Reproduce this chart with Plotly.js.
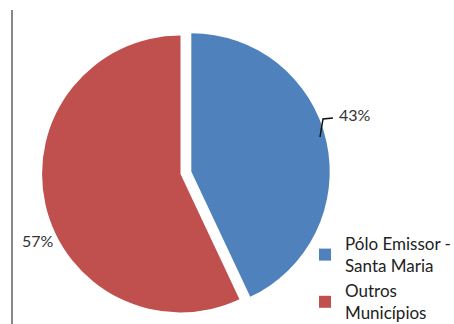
<!DOCTYPE html>
<html>
<head>
<meta charset="utf-8">
<script src="https://cdn.plot.ly/plotly-3.0.1.min.js"></script>
<style>html,body{margin:0;padding:0;background:#fff;overflow:hidden;}#chart{width:454px;height:360px;}</style>
</head>
<body>
<div id="chart"></div>
<script>
const labels = ["Pólo Emissor -<br>Santa Maria", "Outros<br>Municípios"];
const values = [43, 57];
const colors = ["#4F81BD", "#C0504D"];
const pulls = [0.08, 0];

const W = 454, H = 360;
const total = values.reduce((a, b) => a + b, 0);
const pct = values.map(v => Math.round(v / total * 100) + '%');
const labelPos = [[355, 115], [38, 240]];
const fontFam = 'Lato, "Open Sans", sans-serif';

const data = [{
  type: 'pie',
  labels: labels,
  values: values,
  marker: {colors: colors, line: {width: 0}},
  pull: pulls,
  sort: false,
  direction: 'clockwise',
  rotation: 0,
  textinfo: 'none',
  domain: {x: [31/W, 330/W], y: [1 - 326/H, 1 - 22/H]},
  hoverinfo: 'none'
}];
const layout = {
  width: W, height: H,
  margin: {l: 0, r: 0, t: 0, b: 0, autoexpand: false},
  paper_bgcolor: '#fff',
  showlegend: true,
  legend: {
    xref: 'container', yref: 'container',
    x: 305/W, y: 1 - 226/H, xanchor: 'left', yanchor: 'top',
    bgcolor: 'rgba(0,0,0,0)',
    font: {family: fontFam, size: 17, color: '#222'},
    itemsizing: 'constant', tracegroupgap: 0
  },
  annotations: pct.map((t, i) => ({
    text: t, xref: 'paper', yref: 'paper', x: labelPos[i][0]/W, y: 1 - labelPos[i][1]/H,
    showarrow: false, xanchor: 'center', yanchor: 'middle',
    font: {family: fontFam, size: 16, color: '#333'}
  })),
  shapes: [
    {type: 'line', xref: 'paper', yref: 'paper', x0: 12/W, x1: 12/W, y0: 0, y1: 1 - 10/H, line: {color: '#888', width: 2}},
    {type: 'path', xref: 'paper', yref: 'paper',
     path: `M ${320/W} ${1-137/H} L ${323/W} ${1-119/H} L ${333/W} ${1-118/H}`,
     line: {color: '#111', width: 1.5}}
  ]
};
Plotly.newPlot('chart', data, layout, {staticPlot: true});
</script>
</body>
</html>
